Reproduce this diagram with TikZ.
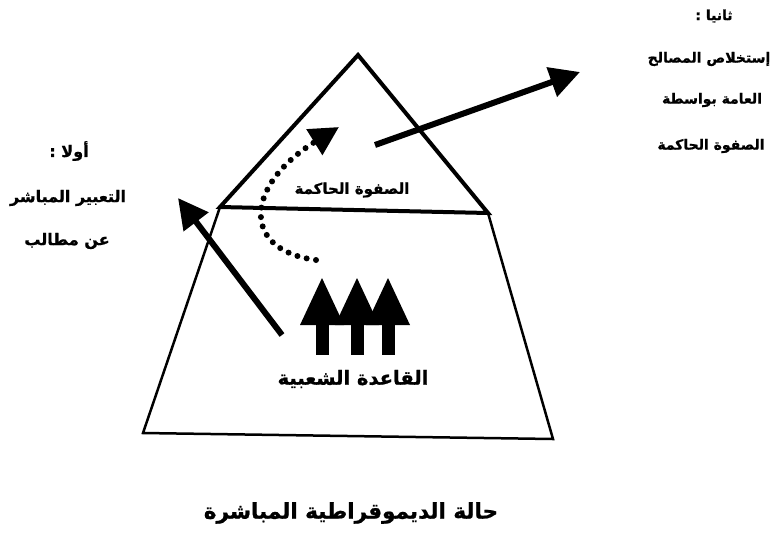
\documentclass[tikz,border=0pt]{standalone}
\usepackage{fontspec}
\usetikzlibrary{arrows.meta}
\TeXXeTstate=1
\newfontfamily\arabicfont[Script=Arabic, BoldFeatures={FakeBold=1}]{DejaVu Sans}
\newcommand\artext[1]{{\arabicfont\bfseries\beginR #1\endR}}
\begin{document}
\begin{tikzpicture}[x=1pt,y=-1pt,
  thickline/.style={line width=4pt, line join=miter},
  thinline/.style={line width=2.5pt},
  bigarrow/.style={line width=6pt, -{Triangle[length=30pt,width=30pt]}},
  dotarrow/.style={line width=6pt, line cap=round, dash pattern=on 0pt off 9.5pt, -{Triangle[length=29pt,width=29pt]}},
  lbl/.style={inner sep=0pt, anchor=center},
  sidetextL/.style={lbl, font=\fontsize{16}{18}\selectfont},
  sidetextR/.style={lbl, font=\fontsize{14}{16}\selectfont},
  fatarrow/.style={fill=black}
]
\useasboundingbox (0,0) rectangle (775,544);
% pyramid
\coordinate (apex) at (358,55);
\coordinate (ul) at (220,207);
\coordinate (ur) at (488,213);
\coordinate (bl) at (143,433);
\coordinate (br) at (553,439);
\draw[thickline] (apex) -- (ul) -- (ur) -- cycle;
\draw[thinline] (ul) -- (bl) -- (br) -- (ur);
% labels
\node[lbl, font=\fontsize{15}{17}\selectfont] (elite) at (352,190) {\artext{الصفوة الحاكمة}};
\node[lbl, font=\fontsize{19.5}{22}\selectfont] (base) at (353,379) {\artext{القاعدة الشعبية}};
\node[lbl, font=\fontsize{21.5}{25}\selectfont] (title) at (351,513) {\artext{حالة الديموقراطية المباشرة}};
% left text
\node[sidetextL] (l1) at (69,151) {\artext{أولا :}};
\node[sidetextL] (l2) at (68,198) {\artext{التعبير المباشر}};
\node[sidetextL] (l3) at (67,241) {\artext{عن مطالب}};
% right text
\node[sidetextR] (r1) at (714,16) {\artext{ثانيا :}};
\node[sidetextR] (r2) at (709,59) {\artext{إستخلاص المصالح}};
\node[sidetextR] (r3) at (712,100) {\artext{العامة بواسطة}};
\node[sidetextR] (r4) at (711,146) {\artext{الصفوة الحاكمة}};
% arrows
\coordinate (la0) at (282,335);
\coordinate (la1) at (178,198);
\draw[bigarrow] (la0) -- (la1);
\coordinate (ra0) at (375,145);
\coordinate (ra1) at (580,72);
\draw[bigarrow] (ra0) -- (ra1);
\coordinate (da0) at (316,260);
\coordinate (da1) at (339,127);
\draw[dotarrow] (da0) .. controls (240,250) and (245,185) .. (da1);
% three fat arrows
\foreach \cx in {322,357,388}{
  \fill[fatarrow] (\cx-22,325) -- (\cx,278) -- (\cx+22,325) -- cycle;
  \fill[fatarrow] (\cx-6.5,324) rectangle (\cx+6.5,355);
}
\end{tikzpicture}
\end{document}
